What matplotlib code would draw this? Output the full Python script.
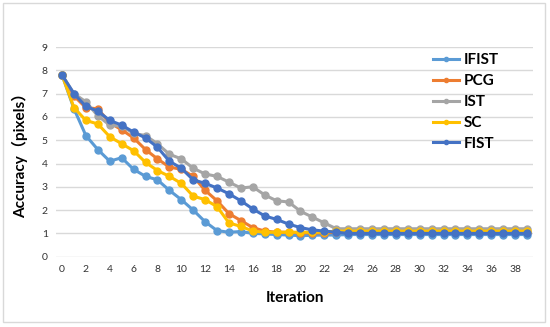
import matplotlib.pyplot as plt
import numpy as np
from matplotlib.patches import Rectangle

plt.rcParams['font.family'] = ['Lato', 'Noto Sans CJK SC', 'DejaVu Sans']

iterations = list(range(40))

ifist = [7.8, 6.35, 5.2, 4.6, 4.1, 4.25, 3.75, 3.45, 3.3, 2.85, 2.45, 2.0, 1.5, 1.12, 1.05,
         1.08, 1.0, 0.98, 0.95, 0.93, 0.9, 0.92, 0.93, 0.93] + [0.95] * 16
pcg = [7.8, 6.9, 6.4, 6.35, 5.75, 5.45, 5.1, 4.6, 4.2, 3.85, 3.75, 3.45, 2.85, 2.4, 1.85,
       1.55, 1.25, 1.1, 1.05, 1.05, 1.03, 1.02, 1.02, 1.05] + [1.05] * 16
ist = [7.8, 7.0, 6.65, 6.05, 5.65, 5.6, 5.3, 5.2, 4.85, 4.4, 4.2, 3.8, 3.55, 3.45, 3.2,
       2.95, 3.0, 2.65, 2.4, 2.35, 1.95, 1.7, 1.45, 1.2] + [1.2] * 16
sc = [7.8, 6.4, 5.85, 5.7, 5.15, 4.85, 4.55, 4.05, 3.7, 3.45, 3.15, 2.6, 2.45, 2.15, 1.45,
      1.3, 1.1, 1.05, 1.05, 1.05, 1.05, 1.05, 1.05, 1.1] + [1.1] * 16
fist = [7.8, 7.0, 6.45, 6.25, 5.85, 5.65, 5.35, 5.1, 4.7, 4.1, 3.8, 3.3, 3.15, 2.95, 2.7,
        2.4, 2.05, 1.75, 1.6, 1.4, 1.25, 1.15, 1.1, 1.05] + [1.0] * 16

series = [('IFIST', ifist, '#5B9BD5'),
          ('PCG', pcg, '#ED7D31'),
          ('IST', ist, '#A5A5A5'),
          ('SC', sc, '#FFC000'),
          ('FIST', fist, '#4472C4')]

fig = plt.figure(figsize=(5.5, 3.27), dpi=100)
ax = fig.add_axes([0.102, 0.215, 0.867, 0.641])

for name, vals, col in series:
    ax.plot(iterations, vals, color=col, lw=2.2, marker='o', ms=5, label=name)

ax.set_xlim(-0.5, 39.5)
ax.set_ylim(0, 9)
ax.set_xticks(range(0, 40, 2))
ax.set_yticks(range(0, 10))
ax.tick_params(length=0, labelsize=7.5, colors='#333333', pad=6)
ax.grid(axis='y', color='#D9D9D9', lw=1)
ax.set_axisbelow(True)
for s in ax.spines.values():
    s.set_visible(False)

ax.set_xlabel('Iteration', fontsize=11, fontweight='bold', labelpad=12)
ax.set_ylabel('Accuracy（pixels）', fontsize=11, fontweight='bold', labelpad=10)

leg = ax.legend(loc='upper left', bbox_to_anchor=(0.785, 0.985), frameon=False,
                prop={'weight': 'bold', 'size': 11}, handlelength=1.7,
                handletextpad=0.3, labelspacing=0.45, markerscale=0.6,
                borderaxespad=0, borderpad=0.2)

fig.patches.append(Rectangle((3 / 550, 5 / 327), 542 / 550, 319 / 327,
                             transform=fig.transFigure, fill=False,
                             edgecolor='#D9D9D9', lw=1))

fig.savefig('out.png', dpi=100)
